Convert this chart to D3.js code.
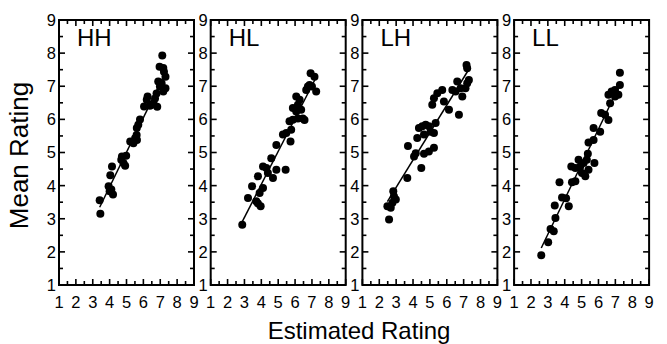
<!DOCTYPE html>
<html><head><meta charset="utf-8">
<script src="https://cdn.jsdelivr.net/npm/d3@7"></script>
<style>body{margin:0;background:#fff}svg{display:block}text{font-family:"Liberation Sans",Arial,sans-serif;fill:#000}</style>
</head><body><svg id="c" width="667" height="344"></svg>
<script>
const panels = ["HH","HL","LH","LL"];
const ticks = [1,2,3,4,5,6,7,8,9];
const hhX = [3.45,3.41,4.14,4.04,3.94,4.1,4.2,4.0,4.69,4.82,4.92,4.73,4.98,5.22,5.41,5.51,5.6,5.62,5.8,5.61,5.7,6.04,6.2,6.25,6.39,6.49,6.69,6.82,6.6,6.88,6.98,7.08,6.78,6.96,7.12,7.18,7.22,7.31,7.31,7.18];
const hhY = [3.15,3.56,4.58,4.31,3.98,3.88,3.73,3.83,4.78,4.68,4.6,4.88,4.9,5.33,5.28,5.43,5.53,5.38,6.0,5.74,5.84,6.39,6.59,6.69,6.41,6.44,6.63,6.38,6.48,7.14,6.99,7.09,6.78,7.59,7.93,7.55,7.44,7.29,6.94,6.84];
const hlX = [2.87,3.21,3.45,3.7,3.96,3.8,3.9,4.1,3.8,4.1,4.3,4.39,4.69,4.59,4.89,5.44,4.89,5.28,5.48,5.73,5.77,5.67,5.87,5.87,6.07,6.07,6.27,6.17,6.36,6.46,6.56,6.17,6.66,6.76,6.86,6.92,7.15,7.25,7.0];
const hlY = [2.82,3.63,3.98,3.53,3.38,3.46,3.78,3.93,4.28,4.58,4.53,4.38,4.23,4.83,4.48,4.48,5.23,5.54,5.59,5.33,5.69,5.94,5.99,6.34,6.24,6.69,6.59,6.44,6.29,6.03,5.98,6.03,6.89,6.99,7.04,7.39,7.29,6.84,6.99];
const lhX = [2.58,2.48,2.68,2.78,2.87,2.83,2.98,3.66,3.7,4.06,4.16,4.49,4.25,4.35,4.55,4.65,4.75,4.94,5.04,5.24,5.24,4.94,4.65,5.34,5.14,5.24,5.44,5.73,5.83,6.13,6.72,6.33,6.52,6.62,6.82,6.92,7.11,7.21,7.31,7.21,7.17];
const lhY = [2.98,3.38,3.33,3.48,3.68,3.83,3.58,4.23,5.2,4.88,4.98,4.53,5.44,5.74,5.79,5.54,5.84,5.79,5.63,5.59,5.14,5.03,4.96,5.89,6.44,6.64,6.79,6.89,6.54,6.29,6.14,6.89,6.84,7.14,6.94,6.69,6.94,7.09,7.19,7.54,7.64];
const llX = [2.61,3.02,3.16,3.35,3.45,3.41,3.69,3.84,4.08,4.24,4.43,4.63,4.39,4.63,4.82,4.92,5.02,5.22,5.12,5.31,5.41,5.37,5.76,5.41,5.71,5.71,6.1,6.16,6.59,6.39,6.69,6.59,6.78,6.98,7.18,6.98,7.27,7.27];
const llY = [1.9,2.29,2.69,2.62,3.02,3.4,4.1,3.64,3.62,3.38,4.1,4.13,4.58,4.53,4.78,4.58,4.38,4.28,4.68,4.78,4.48,4.96,4.68,5.3,5.38,5.74,5.63,6.19,5.98,6.14,6.49,6.74,6.84,6.69,6.74,6.89,7.04,7.41];
const data = [[hhX,hhY],[hlX,hlY],[lhX,lhY],[llX,llY]];

const svg = d3.select("#c");
const top0 = 20, h = 265, w = 135, step = 151.7, left0 = 59;
const x = d3.scaleLinear().domain([1,9]).range([0,w]);
const y = d3.scaleLinear().domain([1,9]).range([h,0]);
const minor = d3.range(1,9.01,0.5);

panels.forEach((name,i)=>{
  const g = svg.append("g").attr("transform",`translate(${left0+i*step},${top0})`);
  const [xs,ys] = data[i];
  const tk = g.append("g").attr("stroke","#000").attr("stroke-width",1.6);
  minor.forEach(v=>{
    const L = Number.isInteger(v)?6:4;
    tk.append("line").attr("x1",x(v)).attr("x2",x(v)).attr("y1",h).attr("y2",h-L);
    tk.append("line").attr("x1",x(v)).attr("x2",x(v)).attr("y1",0).attr("y2",L);
    tk.append("line").attr("x1",0).attr("x2",L).attr("y1",y(v)).attr("y2",y(v));
    tk.append("line").attr("x1",w).attr("x2",w-L).attr("y1",y(v)).attr("y2",y(v));
  });
  g.append("rect").attr("width",w).attr("height",h).attr("fill","none").attr("stroke","#000").attr("stroke-width",2);
  ticks.forEach(t=>{
    g.append("text").attr("x",x(t)).attr("y",h+23).attr("text-anchor","middle").attr("font-size",16.5).text(t);
    g.append("text").attr("x",-3).attr("y",y(t)).attr("dy","0.36em").attr("text-anchor","end").attr("font-size",16.5).text(t);
  });
  g.append("text").attr("x",18).attr("y",26).attr("font-size",24).text(name);
  const mx = d3.mean(xs), my = d3.mean(ys);
  let sxy=0,sxx=0; xs.forEach((v,k)=>{sxy+=(v-mx)*(ys[k]-my); sxx+=(v-mx)*(v-mx);});
  const b = sxy/sxx, a = my-b*mx;
  const [x0,x1] = d3.extent(xs);
  g.append("line").attr("x1",x(x0)).attr("y1",y(a+b*x0)).attr("x2",x(x1)).attr("y2",y(a+b*x1)).attr("stroke","#000").attr("stroke-width",1.5);
  g.selectAll("circle").data(xs).join("circle").attr("cx",d=>x(d)).attr("cy",(d,k)=>y(ys[k])).attr("r",4).attr("fill","#000");
});
svg.append("text").attr("transform",`translate(28,${top0+h/2+3}) rotate(-90)`).attr("text-anchor","middle").attr("font-size",26).text("Mean Rating");
svg.append("text").attr("x",left0+(3*step+w)/2+5).attr("y",339).attr("text-anchor","middle").attr("font-size",24).text("Estimated Rating");
</script></body></html>
